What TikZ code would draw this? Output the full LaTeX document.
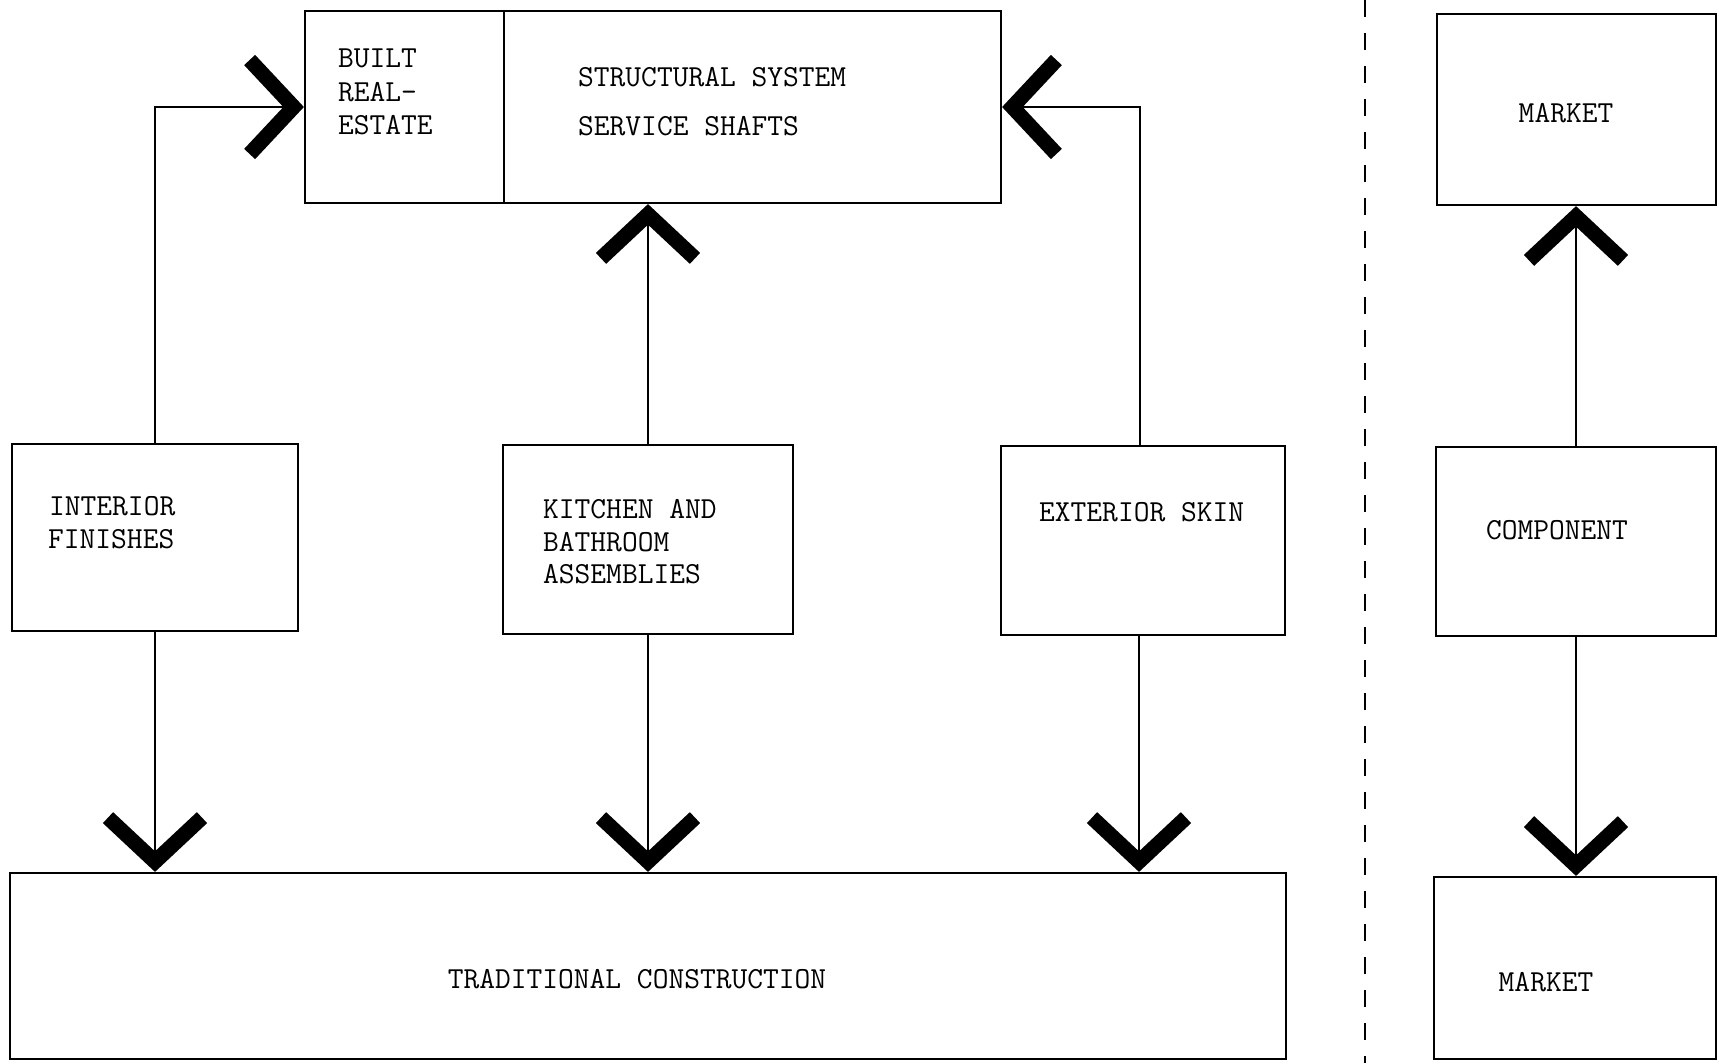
\documentclass[tikz,border=0pt]{standalone}
\usepackage{fontspec}
\usetikzlibrary{arrows.meta,fit}
\begin{document}
\begin{tikzpicture}[x=1pt,y=-1pt,
  box/.style={draw,line width=2.2pt,inner sep=0pt,fit={#1}},
  lbl/.style={inner sep=0pt,font=\ttfamily\fontsize{30.6}{33}\selectfont},
  conn/.style={line width=1.8pt,-{Straight Barb[length=44pt,width=94pt,line width=15pt]}},
  sep/.style={line width=2.6pt,dash pattern=on 17pt off 16pt}]
\useasboundingbox (0,0) rectangle (1719,1063);
% boxes
\node[box={(305,11) (1001,203)}] (top) {};
\coordinate (dtop) at (504,11);
\coordinate (dbot) at (504,203);
\draw[line width=2pt] (dtop) -- (dbot);
\node[box={(12,444) (298,631)}] (interior) {};
\node[box={(503,445) (793,634)}] (kitchen) {};
\node[box={(1001,446) (1285,635)}] (exterior) {};
\node[box={(10,873) (1286,1059)}] (trad) {};
\node[box={(1437,14) (1716,205)}] (mtop) {};
\node[box={(1436,447) (1716,636)}] (comp) {};
\node[box={(1434,877) (1716,1059)}] (mbot) {};
% texts
\node[lbl,anchor=base west] (b1) at (338,67) {BUILT};
\node[lbl,anchor=base west] (b2) at (338,101) {REAL-};
\node[lbl,anchor=base west] (b3) at (338,134) {ESTATE};
\node[lbl,anchor=base west] (s1) at (578,86) {STRUCTURAL SYSTEM};
\node[lbl,anchor=base west] (s2) at (578,135) {SERVICE SHAFTS};
\node[lbl,anchor=base west] (i1) at (49,515) {INTERIOR};
\node[lbl,anchor=base west] (i2) at (48,548) {FINISHES};
\node[lbl,anchor=base west] (k1) at (543,518) {KITCHEN AND};
\node[lbl,anchor=base west] (k2) at (543,551) {BATHROOM};
\node[lbl,anchor=base west] (k3) at (543,583) {ASSEMBLIES};
\node[lbl,anchor=base west] (e1) at (1039,521) {EXTERIOR SKIN};
\node[lbl,anchor=base] (t1) at (637,988) {TRADITIONAL CONSTRUCTION};
\node[lbl,anchor=base] (m1) at (1566,122) {MARKET};
\node[lbl,anchor=base] (c1) at (1557,539) {COMPONENT};
\node[lbl,anchor=base] (m2) at (1546,991) {MARKET};
% connectors
\draw[conn] (interior.north) |- (top.west);
\draw[conn] ([xshift=-3pt]exterior.north) |- (top.east);
\draw[conn] (kitchen.north) -- (kitchen.north |- top.south);
\draw[conn] (interior.south) -- (interior.south |- trad.north);
\draw[conn] (kitchen.south) -- (kitchen.south |- trad.north);
\draw[conn] ([xshift=-4pt]exterior.south) -- ([xshift=-4pt]exterior.south |- trad.north);
\draw[conn] (comp.north) -- (comp.north |- mtop.south);
\draw[conn] (comp.south) -- (comp.south |- mbot.north);
% dashed separator
\coordinate (sepa) at (1365,0);
\coordinate (sepb) at (1365,1063);
\draw[sep] (sepa) -- (sepb);
\end{tikzpicture}
\end{document}
